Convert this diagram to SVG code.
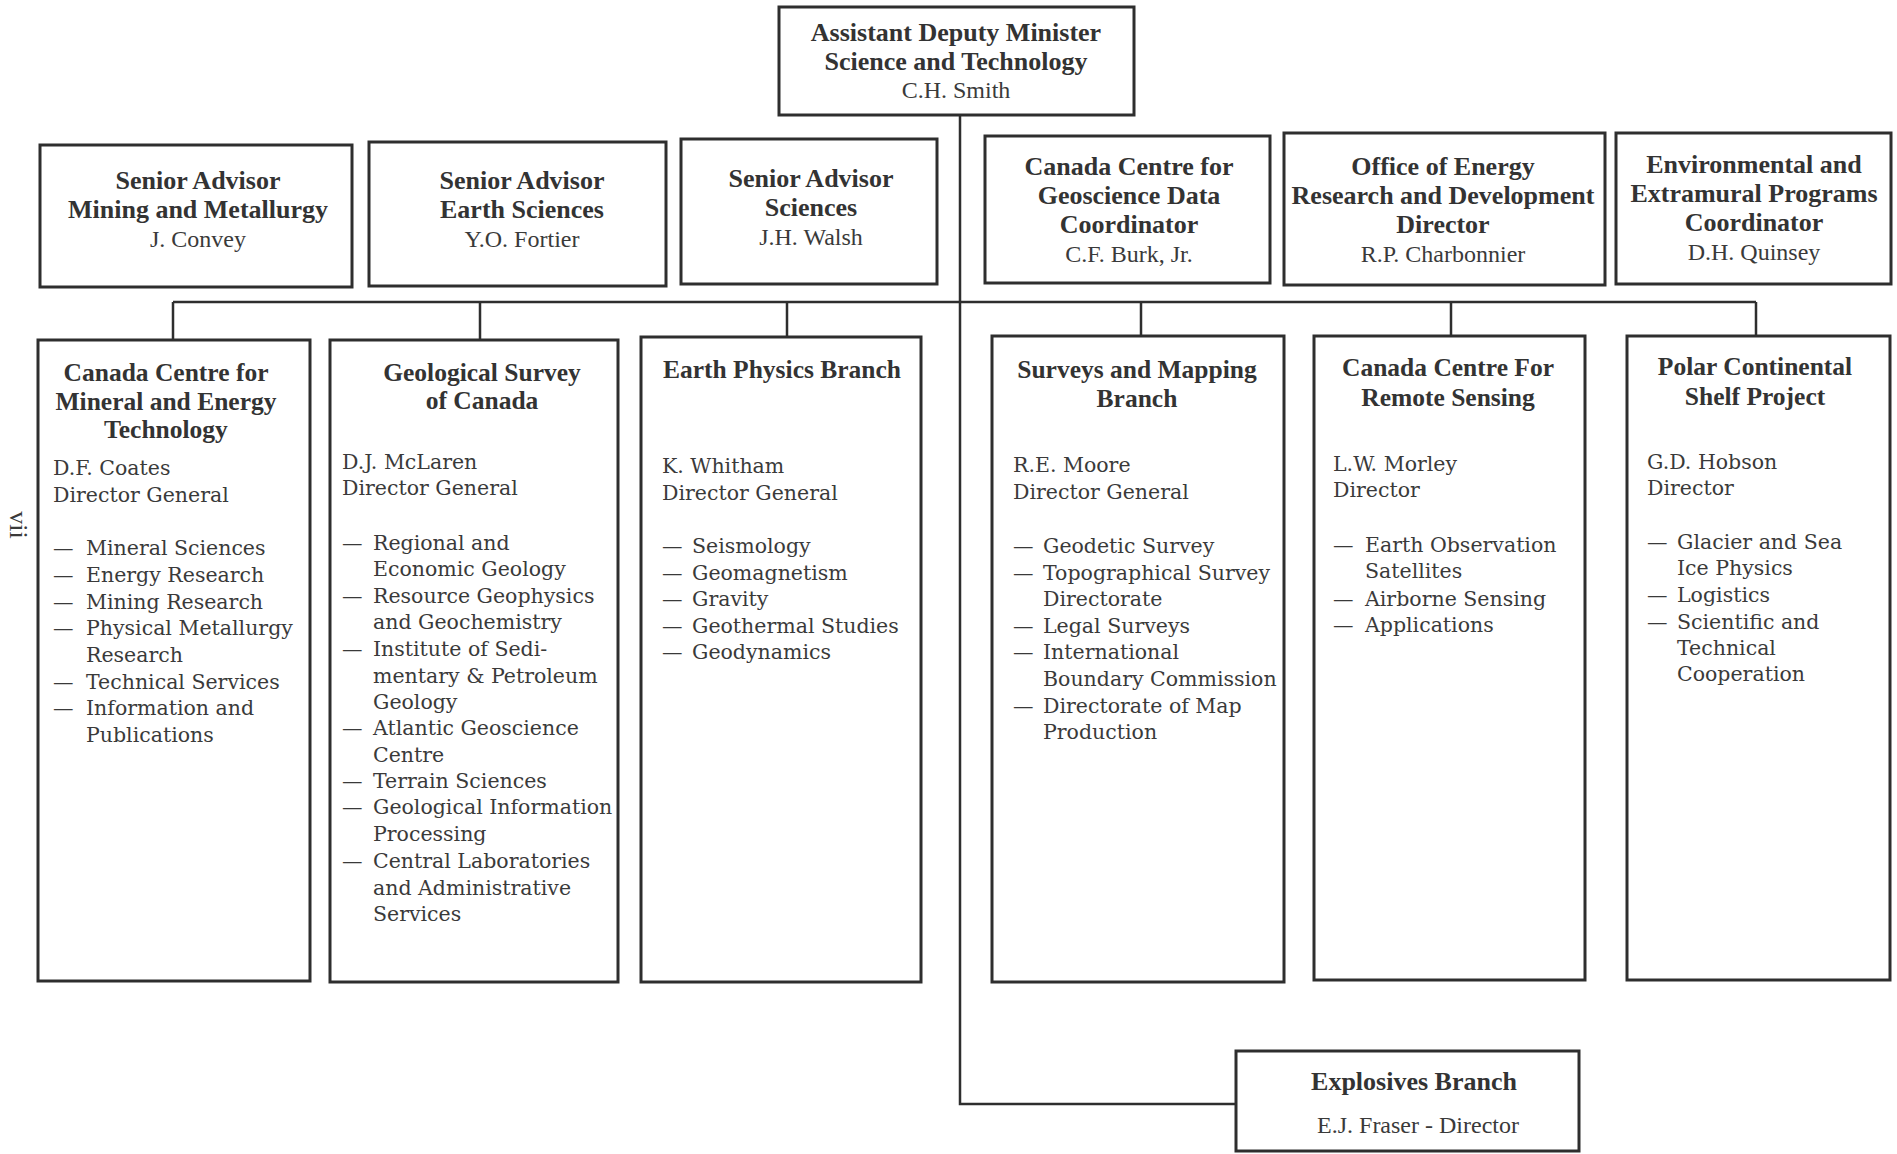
<svg xmlns="http://www.w3.org/2000/svg" width="1897" height="1154" viewBox="0 0 1897 1154">
<style>
.box{fill:none;stroke:#2e2e2e;stroke-width:3}
.con{fill:none;stroke:#2e2e2e;stroke-width:2.5}
.h{font-family:"Liberation Serif",serif;font-weight:bold;font-size:26px;fill:#333;text-anchor:middle}
.n{font-family:"Liberation Serif",serif;font-size:24px;fill:#3a3a3a;text-anchor:middle}
.t{font-family:"Liberation Serif",serif;font-weight:bold;font-size:25.5px;fill:#333;text-anchor:middle}
.b{font-family:"DejaVu Serif",serif;font-size:20.5px;fill:#3a3a3a}
</style>
<rect width="1897" height="1154" fill="#fff"/>
<g id="connectors">
<path class="con" d="M960 115 V1104 H1236"/>
<path class="con" d="M173 302 H1756"/>
<path class="con" d="M173 302 V340 M480 302 V340 M787 302 V337 M1141 302 V336 M1451 302 V336 M1756 302 V336"/>
</g>
<g id="adm">
<rect class="box" x="779" y="7" width="355" height="108"/>
<text class="h" x="956" y="41">Assistant Deputy Minister</text>
<text class="h" x="956" y="70">Science and Technology</text>
<text class="n" x="956" y="98">C.H. Smith</text>
</g>
<g id="sa-mining">
<rect class="box" x="40" y="145" width="312" height="142"/>
<text class="h" x="198" y="189">Senior Advisor</text>
<text class="h" x="198" y="218">Mining and Metallurgy</text>
<text class="n" x="198" y="247">J. Convey</text>
</g>
<g id="sa-earth">
<rect class="box" x="369" y="142" width="297" height="144"/>
<text class="h" x="522" y="189">Senior Advisor</text>
<text class="h" x="522" y="218">Earth Sciences</text>
<text class="n" x="522" y="247">Y.O. Fortier</text>
</g>
<g id="sa-sciences">
<rect class="box" x="681" y="139" width="256" height="145"/>
<text class="h" x="811" y="187">Senior Advisor</text>
<text class="h" x="811" y="216">Sciences</text>
<text class="n" x="811" y="245">J.H. Walsh</text>
</g>
<g id="geodata">
<rect class="box" x="985" y="136" width="285" height="147"/>
<text class="h" x="1129" y="175">Canada Centre for</text>
<text class="h" x="1129" y="204">Geoscience Data</text>
<text class="h" x="1129" y="233">Coordinator</text>
<text class="n" x="1129" y="262">C.F. Burk, Jr.</text>
</g>
<g id="energy">
<rect class="box" x="1284" y="133" width="321" height="152"/>
<text class="h" x="1443" y="175">Office of Energy</text>
<text class="h" x="1443" y="204">Research and Development</text>
<text class="h" x="1443" y="233">Director</text>
<text class="n" x="1443" y="262">R.P. Charbonnier</text>
</g>
<g id="envprog">
<rect class="box" x="1616" y="133" width="275" height="151"/>
<text class="h" x="1754" y="173">Environmental and</text>
<text class="h" x="1754" y="202">Extramural Programs</text>
<text class="h" x="1754" y="231">Coordinator</text>
<text class="n" x="1754" y="260">D.H. Quinsey</text>
</g>
<g id="canmet">
<rect class="box" x="38" y="340" width="272" height="641"/>
<text class="t" x="166" y="381">Canada Centre for</text>
<text class="t" x="166" y="410">Mineral and Energy</text>
<text class="t" x="166" y="438">Technology</text>
<text class="b" x="53" y="475">D.F. Coates</text>
<text class="b" x="53" y="502">Director General</text>
<text class="b" x="53" y="555">—</text><text class="b" x="86" y="555">Mineral Sciences</text>
<text class="b" x="53" y="582">—</text><text class="b" x="86" y="582">Energy Research</text>
<text class="b" x="53" y="609">—</text><text class="b" x="86" y="609">Mining Research</text>
<text class="b" x="53" y="635">—</text><text class="b" x="86" y="635">Physical Metallurgy</text>
<text class="b" x="86" y="662">Research</text>
<text class="b" x="53" y="689">—</text><text class="b" x="86" y="689">Technical Services</text>
<text class="b" x="53" y="715">—</text><text class="b" x="86" y="715">Information and</text>
<text class="b" x="86" y="742">Publications</text>
</g>
<g id="gsc">
<rect class="box" x="330" y="340" width="288" height="642"/>
<text class="t" x="482" y="381">Geological Survey</text>
<text class="t" x="482" y="409">of Canada</text>
<text class="b" x="342" y="469">D.J. McLaren</text>
<text class="b" x="342" y="495">Director General</text>
<text class="b" x="342" y="550">—</text><text class="b" x="373" y="550">Regional and</text>
<text class="b" x="373" y="576">Economic Geology</text>
<text class="b" x="342" y="603">—</text><text class="b" x="373" y="603">Resource Geophysics</text>
<text class="b" x="373" y="629">and Geochemistry</text>
<text class="b" x="342" y="656">—</text><text class="b" x="373" y="656">Institute of Sedi-</text>
<text class="b" x="373" y="683">mentary &amp; Petroleum</text>
<text class="b" x="373" y="709">Geology</text>
<text class="b" x="342" y="735">—</text><text class="b" x="373" y="735">Atlantic Geoscience</text>
<text class="b" x="373" y="762">Centre</text>
<text class="b" x="342" y="788">—</text><text class="b" x="373" y="788">Terrain Sciences</text>
<text class="b" x="342" y="814">—</text><text class="b" x="373" y="814">Geological Information</text>
<text class="b" x="373" y="841">Processing</text>
<text class="b" x="342" y="868">—</text><text class="b" x="373" y="868">Central Laboratories</text>
<text class="b" x="373" y="895">and Administrative</text>
<text class="b" x="373" y="921">Services</text>
</g>
<g id="epb">
<rect class="box" x="641" y="337" width="280" height="645"/>
<text class="t" x="782" y="378">Earth Physics Branch</text>
<text class="b" x="662" y="473">K. Whitham</text>
<text class="b" x="662" y="500">Director General</text>
<text class="b" x="662" y="553">—</text><text class="b" x="692" y="553">Seismology</text>
<text class="b" x="662" y="580">—</text><text class="b" x="692" y="580">Geomagnetism</text>
<text class="b" x="662" y="606">—</text><text class="b" x="692" y="606">Gravity</text>
<text class="b" x="662" y="633">—</text><text class="b" x="692" y="633">Geothermal Studies</text>
<text class="b" x="662" y="659">—</text><text class="b" x="692" y="659">Geodynamics</text>
</g>
<g id="smb">
<rect class="box" x="992" y="336" width="292" height="646"/>
<text class="t" x="1137" y="378">Surveys and Mapping</text>
<text class="t" x="1137" y="407">Branch</text>
<text class="b" x="1013" y="472">R.E. Moore</text>
<text class="b" x="1013" y="499">Director General</text>
<text class="b" x="1013" y="553">—</text><text class="b" x="1043" y="553">Geodetic Survey</text>
<text class="b" x="1013" y="580">—</text><text class="b" x="1043" y="580">Topographical Survey</text>
<text class="b" x="1043" y="606">Directorate</text>
<text class="b" x="1013" y="633">—</text><text class="b" x="1043" y="633">Legal Surveys</text>
<text class="b" x="1013" y="659">—</text><text class="b" x="1043" y="659">International</text>
<text class="b" x="1043" y="686">Boundary Commission</text>
<text class="b" x="1013" y="713">—</text><text class="b" x="1043" y="713">Directorate of Map</text>
<text class="b" x="1043" y="739">Production</text>
</g>
<g id="ccrs">
<rect class="box" x="1314" y="336" width="271" height="644"/>
<text class="t" x="1448" y="376">Canada Centre For</text>
<text class="t" x="1448" y="406">Remote Sensing</text>
<text class="b" x="1333" y="471">L.W. Morley</text>
<text class="b" x="1333" y="497">Director</text>
<text class="b" x="1333" y="552">—</text><text class="b" x="1365" y="552">Earth Observation</text>
<text class="b" x="1365" y="578">Satellites</text>
<text class="b" x="1333" y="606">—</text><text class="b" x="1365" y="606">Airborne Sensing</text>
<text class="b" x="1333" y="632">—</text><text class="b" x="1365" y="632">Applications</text>
</g>
<g id="polar">
<rect class="box" x="1627" y="336" width="263" height="644"/>
<text class="t" x="1755" y="375">Polar Continental</text>
<text class="t" x="1755" y="405">Shelf Project</text>
<text class="b" x="1647" y="469">G.D. Hobson</text>
<text class="b" x="1647" y="495">Director</text>
<text class="b" x="1647" y="549">—</text><text class="b" x="1677" y="549">Glacier and Sea</text>
<text class="b" x="1677" y="575">Ice Physics</text>
<text class="b" x="1647" y="602">—</text><text class="b" x="1677" y="602">Logistics</text>
<text class="b" x="1647" y="629">—</text><text class="b" x="1677" y="629">Scientific and</text>
<text class="b" x="1677" y="655">Technical</text>
<text class="b" x="1677" y="681">Cooperation</text>
</g>
<g id="explosives">
<rect class="box" x="1236" y="1051" width="343" height="100"/>
<text class="h" x="1414" y="1090">Explosives Branch</text>
<text class="n" x="1418" y="1133">E.J. Fraser - Director</text>
</g>
<text transform="translate(10,525) rotate(90)" font-family="Liberation Serif, serif" font-size="26" fill="#3a3a3a" text-anchor="middle">vii</text>
</svg>
